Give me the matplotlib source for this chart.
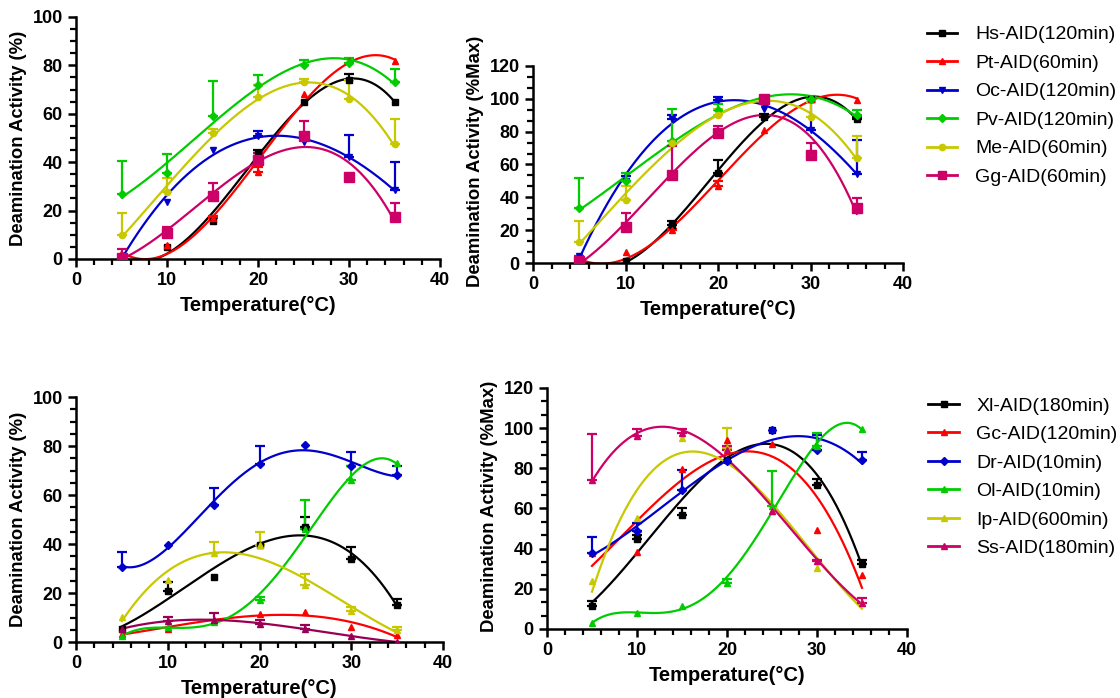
import numpy as np
import matplotlib
matplotlib.use("Agg")
import matplotlib.pyplot as plt
from matplotlib.ticker import MultipleLocator, AutoMinorLocator
from matplotlib.lines import Line2D

plt.rcParams['font.family'] = ['Liberation Sans', 'DejaVu Sans']

temps = [5, 10, 15, 20, 25, 30, 35]

# top row: % activity (left) and %Max (right)
top_names = ['Hs-AID(120min)', 'Pt-AID(60min)', 'Oc-AID(120min)',
             'Pv-AID(120min)', 'Me-AID(60min)', 'Gg-AID(60min)']
tl_hs = [0, 5.1, 15.7, 43.6, 65, 74, 65]
tl_pt = [1.2, 5.8, 16.8, 36, 68, 81.7, 81.7]
tl_oc = [1, 23.7, 45, 51, 48.4, 42, 28.5]
tl_pv = [27, 35.4, 59, 72, 80, 81, 73]
tl_me = [9.9, 27.8, 51.9, 67, 73, 66, 47.3]
tl_gg = [0.6, 10.9, 26, 40.9, 51, 34, 17.5]
tl_hs_err = [0, 0, 0, 1.5, 0, 2.5, 0]
tl_pt_err = [0, 0, 1, 2, 0, 0, 0]
tl_oc_err = [0, 0, 0, 2, 0, 9.4, 11.5]
tl_pv_err = [13.4, 7.9, 14.6, 4, 2.4, 2, 5.5]
tl_me_err = [9.1, 5.5, 1.6, 4.8, 1.5, 7.9, 10.7]
tl_gg_err = [3.4, 2.4, 5.5, 3, 6, 0, 5.7]

tr_hs = [0, 1, 23.3, 55, 88.8, 100, 87.6]
tr_pt = [1, 6.5, 20, 47, 81, 100, 99.4]
tr_oc = [4, 49.7, 88, 99.4, 94, 81, 54.4]
tr_pv = [33.5, 49.7, 74, 93, 100, 100, 90]
tr_me = [13, 38.5, 73, 90, 99.8, 89, 64]
tr_gg = [1, 21.9, 53.8, 79, 99.8, 66, 33.5]
tr_hs_err = [0, 0, 2, 8, 2.2, 0, 1.4]
tr_pt_err = [0, 0, 1, 2.7, 0, 0, 0]
tr_oc_err = [0, 3, 2, 1.6, 0, 16.8, 20.6]
tr_pv_err = [18.2, 5.3, 19.7, 4, 0, 2, 3]
tr_me_err = [12.4, 8.2, 0, 4, 0, 9, 13.5]
tr_gg_err = [3.5, 8.5, 17.2, 4.6, 0, 7, 6]

# bottom row
bot_names = ['Xl-AID(180min)', 'Gc-AID(120min)', 'Dr-AID(10min)',
             'Ol-AID(10min)', 'Ip-AID(600min)', 'Ss-AID(180min)']
bl_xl = [5.4, 21, 26.5, 39.5, 47, 34, 15]
bl_gc = [3.4, 5.4, 8.8, 11.3, 12.2, 6.1, 2.7]
bl_dr = [30.6, 39.7, 56, 72.8, 80.3, 72, 68]
bl_ol = [2.3, 6.1, 8.2, 17, 46.3, 66, 73]
bl_ip = [10.2, 25.2, 36.3, 39.7, 23.1, 12.7, 5]
bl_ss = [5.4, 8.6, 9.1, 7.5, 5.4, 2.4, 0]
bl_xl_err = [0, 3.5, 0, 0, 4, 4.8, 2.7]
bl_gc_err = [0, 0, 0, 0, 0, 0, 0]
bl_dr_err = [6.1, 0, 7, 7.1, 0, 5.6, 3.7]
bl_ol_err = [0, 0, 0, 1.4, 11.5, 5.7, 0]
bl_ip_err = [0, 0, 4.5, 5.2, 4.8, 1.6, 1.1]
bl_ss_err = [0, 1.6, 2.7, 1.3, 1.4, 0, 0]

br_xl = [11.3, 44.8, 57, 84.3, 99.3, 71.9, 32.5]
br_gc = [37.8, 38.2, 79.7, 94.3, 92, 49.5, 27]
br_dr = [37.8, 48.6, 69.4, 83.5, 98.9, 89.3, 84.3]
br_ol = [3, 8, 11.3, 22.9, 61.4, 91, 99.6]
br_ip = [23.7, 55.3, 95.1, 90, 58.6, 30.4, 13]
br_ss = [74.4, 95.9, 97.6, 89.3, 58.6, 33.7, 13]
br_xl_err = [2.5, 2.2, 3.2, 0, 0, 2.8, 2]
br_gc_err = [0, 0, 0, 0, 0, 0, 0]
br_dr_err = [8.2, 4.2, 9.6, 0, 0, 7.5, 3.7]
br_ol_err = [0, 0, 0, 2, 17.1, 6.6, 0]
br_ip_err = [0, 0, 0, 10, 0, 0, 0]
br_ss_err = [22.7, 3.7, 2, 1.7, 0, 0.8, 2.4]

top_colors = ['black', '#FF0000', '#0000CC', '#00CC00', '#C8C800', '#CC0066']
top_markers = ['s', '^', 'v', 'D', 'o', 's']
top_msize = [4, 4.5, 4.5, 4.5, 4.5, 7.5]
bot_colors = ['black', '#FF0000', '#0000CC', '#00CC00', '#C8C800', '#CC0066']
bot_markers = ['s', '^', 'D', '^', '^', '^']
bot_msize = [5, 4.5, 4.5, 4.5, 4.5, 4.5]

fig = plt.figure(figsize=(11.2, 6.98), dpi=100)
ax_tl = fig.add_axes([0.0679, 0.629, 0.325, 0.3467])
ax_tr = fig.add_axes([0.4759, 0.6232, 0.3304, 0.2917])
ax_bl = fig.add_axes([0.0679, 0.0802, 0.3277, 0.351])
ax_br = fig.add_axes([0.4884, 0.0989, 0.3214, 0.351])

xs = np.linspace(5, 35, 200)


def draw(ax, means, errs, colors, markers, msizes, degs):
    for m, e, c, mk, ms, d in zip(means, errs, colors, markers, msizes, degs):
        m = np.array(m, float)
        e = np.array(e, float)
        # smooth polynomial trend through the measured points
        fit = np.polyval(np.polyfit(temps, m, d), xs)
        ax.plot(xs, fit, color=c, lw=1.6, zorder=2)
        keep = e > 0
        if keep.any():
            ax.errorbar(np.array(temps)[keep], m[keep],
                        yerr=[np.zeros(keep.sum()), e[keep]],
                        fmt='none', ecolor=c, elinewidth=1.6,
                        capsize=3.5, capthick=1.6, zorder=3)
        ax.plot(temps, m, ls='none', marker=mk, ms=ms, color=c, zorder=4)


def style(ax, ymax, ytop, ylab, yminor):
    ax.set_xlim(0, 40)
    ax.set_ylim(0, ytop)
    ax.set_xticks(range(0, 41, 10))
    ax.set_yticks(range(0, ymax + 1, 20))
    ax.xaxis.set_minor_locator(MultipleLocator(2))
    ax.yaxis.set_minor_locator(AutoMinorLocator(yminor))
    for s in ['top', 'right']:
        ax.spines[s].set_visible(False)
    for s in ['left', 'bottom']:
        ax.spines[s].set_linewidth(1.8)
    ax.spines['left'].set_bounds(0, ymax)
    ax.tick_params(which='major', direction='out', length=6, width=1.8,
                   labelsize=13)
    ax.tick_params(which='minor', direction='out', length=4, width=1.6)
    for lab in ax.get_xticklabels() + ax.get_yticklabels():
        lab.set_fontweight('bold')
    ax.set_xlabel('Temperature(°C)', fontsize=14.5, fontweight='bold', labelpad=5)
    ax.set_ylabel(ylab, fontsize=13.3, fontweight='bold', labelpad=4)
    ax.patch.set_visible(False)


draw(ax_tl, [tl_hs, tl_pt, tl_oc, tl_pv, tl_me, tl_gg],
     [tl_hs_err, tl_pt_err, tl_oc_err, tl_pv_err, tl_me_err, tl_gg_err],
     top_colors, top_markers, top_msize, [3, 3, 3, 3, 3, 3])
draw(ax_tr, [tr_hs, tr_pt, tr_oc, tr_pv, tr_me, tr_gg],
     [tr_hs_err, tr_pt_err, tr_oc_err, tr_pv_err, tr_me_err, tr_gg_err],
     top_colors, top_markers, top_msize, [3, 3, 3, 3, 3, 3])
bl_colors = bot_colors[:5] + ['#990055']
draw(ax_bl, [bl_xl, bl_gc, bl_dr, bl_ol, bl_ip, bl_ss],
     [bl_xl_err, bl_gc_err, bl_dr_err, bl_ol_err, bl_ip_err, bl_ss_err],
     bl_colors, bot_markers, bot_msize, [3, 3, 4, 4, 3, 3])
draw(ax_br, [br_xl, br_gc, br_dr, br_ol, br_ip, br_ss],
     [br_xl_err, br_gc_err, br_dr_err, br_ol_err, br_ip_err, br_ss_err],
     bot_colors, bot_markers, bot_msize, [3, 3, 3, 4, 3, 3])

style(ax_tl, 100, 100, 'Deamination Activity (%)', 4)
style(ax_tr, 120, 124, 'Deamination Activity (%Max)', 3)
style(ax_bl, 100, 100, 'Deamination Activity (%)', 4)
style(ax_br, 120, 122, 'Deamination Activity (%Max)', 3)

top_handles = [Line2D([], [], color=c, marker=mk, ms=min(ms, 6), lw=2)
               for c, mk, ms in zip(top_colors, top_markers, top_msize)]
bot_handles = [Line2D([], [], color=c, marker=mk, ms=min(ms, 5), lw=2)
               for c, mk, ms in zip(bot_colors, bot_markers, bot_msize)]
leg_kw = dict(loc='upper left', frameon=False, fontsize=14,
              handlelength=1.55, handletextpad=0.9, labelspacing=0.56,
              borderpad=0, borderaxespad=0)
fig.legend(top_handles, top_names, bbox_to_anchor=(0.828, 0.963), **leg_kw)
fig.legend(bot_handles, bot_names, bbox_to_anchor=(0.829, 0.431), **leg_kw)

fig.savefig('out.png', dpi=100)
